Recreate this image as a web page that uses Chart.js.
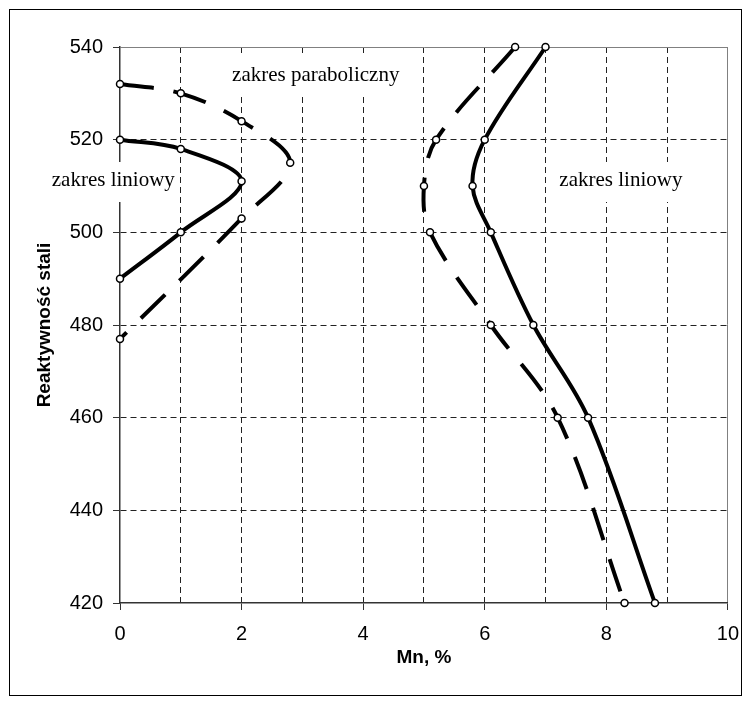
<!DOCTYPE html>
<html>
<head>
<meta charset="utf-8">
<script src="https://cdn.jsdelivr.net/npm/chart.js@4.4.1/dist/chart.umd.min.js"></script>
<style>
html,body{margin:0;padding:0;background:#fff;}
canvas{display:block;}
</style>
</head>
<body>
<canvas id="c" width="751" height="704"></canvas>
<script>
// ---- data ----
const mnSolidLeft  = [0, 1, 2, 1, 0];
const reSolidLeft  = [520, 518, 511, 500, 490];
const mnDashLeft   = [0, 1, 2, 2.8, 2, 0];
const reDashLeft   = [532, 530, 524, 515, 503, 477];
const mnSolidRight = [7, 6, 5.8, 6.1, 6.8, 7.7, 8.8];
const reSolidRight = [540, 520, 510, 500, 480, 460, 420];
const mnDashRight  = [6.5, 5.2, 5.0, 5.1, 6.1, 7.2, 8.3];
const reDashRight  = [540, 520, 510, 500, 480, 460, 420];

const xMin = 0, xMax = 10, xStep = 1, xLabelEvery = 2;
const yMin = 420, yMax = 540, yStep = 20;
const xTitle = 'Mn, %';
const yTitle = 'Reaktywność stali';
const noteTexts = ['zakres paraboliczny', 'zakres liniowy', 'zakres liniowy'];

// ---- styling / layout ----
const notePlaces = [{x: 3.22, y: 532.7}, {x: -0.11, y: 510.0}, {x: 8.24, y: 510.0}];
const toPts = (xs, ys) => xs.map((v, i) => ({x: v, y: ys[i]}));

const GRID = '#222';
const EDGE = '#808080';
const SANS = '"Liberation Sans", Arial, sans-serif';

const decor = {
  id: 'decor',
  beforeDraw(chart) {
    const ctx = chart.ctx;
    ctx.save();
    ctx.fillStyle = '#fff';
    ctx.fillRect(0, 0, chart.width, chart.height);
    ctx.strokeStyle = '#000';
    ctx.lineWidth = 1;
    ctx.strokeRect(9.5, 9.5, 732, 686);
    ctx.restore();
  },
  beforeDatasetsDraw(chart) {
    const {ctx, scales: {x, y}} = chart;
    ctx.save();
    ctx.font = '21px "Liberation Serif", "Times New Roman", serif';
    ctx.textAlign = 'center';
    ctx.textBaseline = 'alphabetic';
    noteTexts.forEach((t, i) => {
      const px = x.getPixelForValue(notePlaces[i].x);
      const py = y.getPixelForValue(notePlaces[i].y);
      const w = ctx.measureText(t).width;
      ctx.fillStyle = '#fff';
      ctx.fillRect(px - w / 2 - 4, py - 24, w + 8, 40);
      ctx.fillStyle = '#000';
      ctx.fillText(t, px, py);
    });
    ctx.restore();
  }
};

const lineDs = (xs, ys, dashed) => ({
  data: toPts(xs, ys),
  showLine: true,
  borderColor: '#000',
  borderWidth: 4,
  borderDash: dashed ? [34, 20] : [],
  borderCapStyle: 'butt',
  borderJoinStyle: 'round',
  tension: 0.35,
  pointRadius: 3.5,
  pointBorderWidth: 1.5,
  pointBorderColor: '#000',
  pointBackgroundColor: '#fff',
  clip: false
});

new Chart(document.getElementById('c'), {
  type: 'scatter',
  data: {
    datasets: [
      lineDs(mnSolidLeft, reSolidLeft, false),
      lineDs(mnDashLeft, reDashLeft, true),
      lineDs(mnSolidRight, reSolidRight, false),
      lineDs(mnDashRight, reDashRight, true)
    ]
  },
  options: {
    responsive: false,
    animation: false,
    devicePixelRatio: 1,
    layout: {padding: {left: 0, right: 18, top: 47, bottom: 0}},
    plugins: {legend: {display: false}, tooltip: {enabled: false}},
    scales: {
      x: {
        type: 'linear',
        min: xMin, max: xMax,
        afterFit: s => { s.height = 101; },
        ticks: {
          stepSize: xStep,
          autoSkip: false,
          maxRotation: 0,
          padding: 12,
          color: '#000',
          font: {family: SANS, size: 20},
          callback: v => (v % xLabelEvery === 0 ? String(v) : '')
        },
        grid: {
          lineWidth: 1,
          tickLength: 7,
          color: c => (c.tick.value === xMin ? 'rgba(0,0,0,0)' : c.tick.value === xMax ? EDGE : GRID),
          tickColor: c => (c.tick.value % xLabelEvery === 0 ? '#333' : 'rgba(0,0,0,0)')
        },
        border: {
          display: true, color: '#333', width: 1.5,
          dash: c => (c.tick && c.tick.value === xMax ? [] : [6, 4])
        },
        title: {
          display: true, text: xTitle, color: '#000',
          font: {family: SANS, size: 19, weight: 'bold'},
          padding: {top: 0, bottom: 35}
        }
      },
      y: {
        type: 'linear',
        min: yMin, max: yMax,
        afterFit: s => { s.width = 120; },
        ticks: {
          stepSize: yStep,
          padding: 10,
          color: '#000',
          font: {family: SANS, size: 20}
        },
        grid: {
          lineWidth: 1,
          tickLength: 7,
          color: c => (c.tick.value === yMin ? 'rgba(0,0,0,0)' : c.tick.value === yMax ? EDGE : GRID),
          tickColor: '#333'
        },
        border: {
          display: true, color: '#333', width: 1.5,
          dash: c => (c.tick && c.tick.value === yMax ? [] : [6, 4])
        },
        title: {
          display: true, text: yTitle, color: '#000',
          font: {family: SANS, size: 19, weight: 'bold'},
          padding: {top: 33, bottom: 0}
        }
      }
    }
  },
  plugins: [decor]
});
</script>
</body>
</html>
